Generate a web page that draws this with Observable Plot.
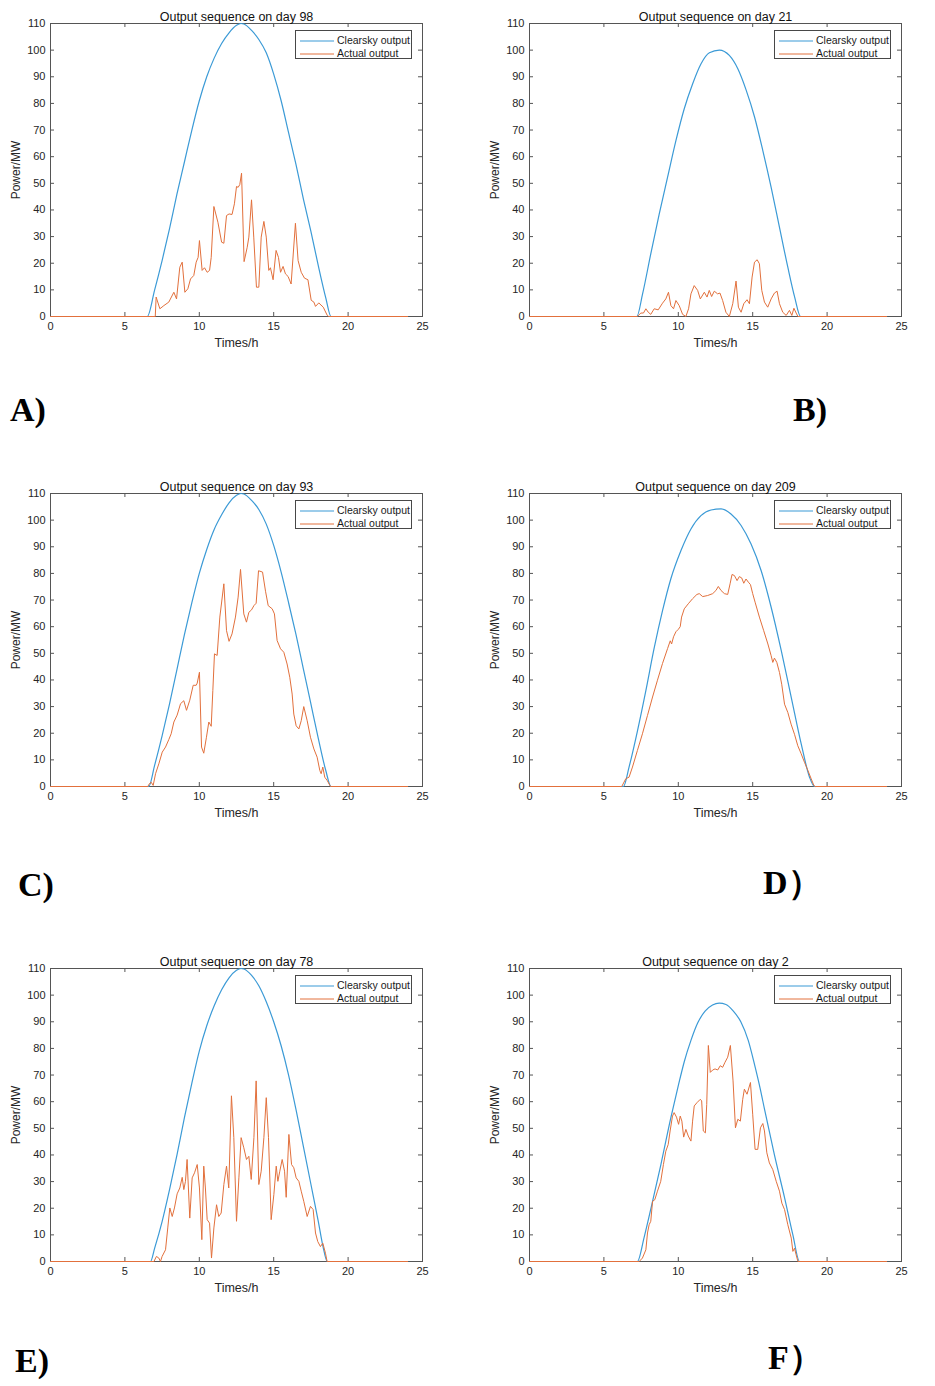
<!DOCTYPE html>
<html>
<head>
<meta charset="utf-8">
<script src="https://cdn.jsdelivr.net/npm/d3@7"></script>
<script src="https://cdn.jsdelivr.net/npm/@observablehq/plot@0.6"></script>
<style>
  body { margin: 0; background: #fff; }
  #page { position: relative; width: 935px; height: 1386px; font-family: "Liberation Sans", Arial, sans-serif; }
  .panel { position: absolute; width: 470px; height: 360px; }
  .legend { position: absolute; left: 295px; top: 30px; width: 115px; height: 27px; border: 1px solid #484848; background: #fff; font-size: 10.5px; color: #1a1a1a; }
  .legend div { position: absolute; left: 4px; height: 13px; line-height: 13px; white-space: nowrap; }
  .legend svg { vertical-align: middle; margin-right: 3px; }
  .tag { position: absolute; font-family: "Liberation Serif", "Times New Roman", serif; font-weight: bold; font-size: 34px; line-height: 1; color: #000; }
</style>
</head>
<body>
<div id="page"></div>
<script>
const xTicks = [0, 5, 10, 15, 20, 25]
const yTicks = [0, 10, 20, 30, 40, 50, 60, 70, 80, 90, 100, 110]
const days = [98, 21, 93, 209, 78, 2]
const tags = ["A)", "B)", "C)", "D）", "E)", "F）"]
const seriesNames = ["Clearsky output", "Actual output"]
const blue = "#3b9ad6"
const orange = "#e2703c"

/* clearsky output [hour, MW] */
const clearA = [[0,0],[6.5,0],[7,10],[7.5,21],[8,33],[8.5,46],[9,58],[9.5,70],[10,81],[10.5,90],[11,97],[11.5,102.5],[12,106.5],[12.5,109.3],[12.8,110],[13,109.8],[13.5,107.5],[14,104],[14.5,99],[15,91],[15.5,81],[16,69],[16.5,57],[17,44],[17.5,32],[18,19],[18.5,7],[18.85,0],[24,0]]
const clearB = [[0,0],[7.21,0],[7.6,8.5],[8.15,23.5],[8.72,38.5],[9.28,52.3],[9.84,66],[10.4,78],[10.96,87.3],[11.52,94.8],[12.09,99],[12.76,100],[13.43,98],[14,93],[14.56,85],[15.12,75],[15.68,62.3],[16.24,48.5],[16.8,33.5],[17.36,18.5],[17.82,7.3],[18.22,0],[24,0]]
const clearC = [[0,0],[6.6,0],[7,8],[7.5,19],[8,31],[8.5,44],[9,57],[9.5,69],[10,80],[10.5,89],[11,96.5],[11.5,102],[12,106.5],[12.5,109.3],[12.8,110],[13,109.8],[13.5,107.5],[14,104],[14.5,98.5],[15,90.5],[15.5,80.5],[16,69],[16.5,57],[17,44],[17.5,31],[18,18],[18.5,6],[18.85,0],[24,0]]
const clearD = [[0,0],[6.31,0],[6.69,7.3],[7.26,21],[7.82,36],[8.38,52],[8.94,66],[9.5,78],[10.18,88.6],[10.85,96.7],[11.52,101.7],[12.2,103.8],[12.87,104.2],[13.54,102.3],[14.22,98],[14.89,91],[15.57,81],[16.24,67.3],[16.92,51],[17.59,33.5],[18.26,16],[18.82,3.5],[19.16,0],[24,0]]
const clearE = [[0,0],[6.72,0],[7,5],[7.5,15],[8,27],[8.5,40],[9,54],[9.5,67],[10,79],[10.5,88.5],[11,96],[11.5,102],[12,106.5],[12.5,109.3],[12.8,110],[13,109.8],[13.5,107.5],[14,103.5],[14.5,97.5],[15,90],[15.5,81],[16,70],[16.5,57],[17,43],[17.5,29],[18,15],[18.3,6],[18.6,0],[24,0]]
const clearF = [[0,0],[7.25,0],[7.7,9],[8.27,22.6],[8.83,36.4],[9.5,54],[10,66],[10.4,75],[10.85,83],[11.3,89.5],[11.8,94],[12.3,96.3],[12.75,97],[13.2,96.5],[13.7,94],[14.2,90],[14.7,83],[15.12,74],[15.5,65],[15.8,57],[16.46,40],[17.14,24],[17.7,10],[18.15,0],[24,0]]

/* actual output [hour, MW] */
const actualA = [[0,0],[7.04,0],[7.1,7.3],[7.35,2.9],[7.62,4.1],[7.95,5.4],[8.29,9.1],[8.47,6.6],[8.69,18.5],[8.85,20.4],[9.03,9.1],[9.23,10.4],[9.41,14.1],[9.63,15.4],[9.79,20.4],[9.92,22.2],[10.01,28.5],[10.19,17.3],[10.35,18.3],[10.53,16.6],[10.69,17.3],[10.8,22.2],[10.98,41.3],[11.25,35.4],[11.5,27.9],[11.65,27.5],[11.83,37.9],[12,38.5],[12.2,38.3],[12.36,42.3],[12.5,48.8],[12.61,48.5],[12.72,49.5],[12.84,53.8],[13.01,20.6],[13.22,26],[13.33,29.8],[13.51,43.8],[13.66,29.8],[13.84,11],[14,11],[14.16,29.8],[14.34,35.7],[14.5,29.8],[14.67,17.3],[14.78,18.3],[14.96,13.8],[15.16,24.8],[15.32,22.2],[15.46,16.6],[15.63,18.8],[15.79,16],[15.97,15],[16.17,12.2],[16.46,35],[16.64,21],[16.85,16.6],[17.07,14.4],[17.3,13.8],[17.52,6.1],[17.7,5.4],[17.81,3.8],[18.03,5.1],[18.33,3.5],[18.6,0.4],[18.7,0],[24,0]]
const actualB = [[0,0],[7.25,0],[7.48,1.3],[7.66,1.3],[7.82,2.9],[7.98,1.6],[8.15,0.8],[8.38,2.9],[8.65,2.5],[8.94,5],[9.16,6.6],[9.34,9.1],[9.5,4.1],[9.68,2.9],[9.84,6],[10.06,4.1],[10.29,0.8],[10.51,0],[10.69,2.9],[10.85,8.5],[11.07,11.6],[11.3,9.8],[11.48,6.6],[11.75,9.1],[11.93,7.3],[12.08,9.8],[12.24,7.5],[12.42,9.5],[12.64,8.5],[12.8,8.8],[12.98,6],[13.2,1.6],[13.43,0],[13.66,4.8],[13.88,13.3],[14.04,3.5],[14.22,1.6],[14.4,4.8],[14.62,6.3],[14.78,4.8],[14.96,14.8],[15.12,20.4],[15.3,21.3],[15.45,19.8],[15.61,9.8],[15.79,5.4],[16.01,3.5],[16.24,6.6],[16.46,8.8],[16.64,9.5],[16.8,4.8],[17.02,1.6],[17.25,0.4],[17.47,2.3],[17.63,0.4],[17.77,3.1],[17.92,1.3],[18.04,0],[24,0]]
const actualC = [[0,0],[6.55,0],[6.61,0.8],[6.77,1.6],[6.9,0.4],[7.06,4.8],[7.28,8.5],[7.51,12.9],[7.73,14.8],[7.95,17.6],[8.11,19.8],[8.29,24.2],[8.51,26.8],[8.74,31.1],[8.96,32.2],[9.14,28.6],[9.36,32.4],[9.59,38],[9.79,38],[9.86,38.8],[10.01,42.9],[10.15,14.8],[10.3,12.5],[10.48,18.5],[10.64,24.2],[10.8,22.6],[10.91,36],[11.02,49.8],[11.2,49.2],[11.38,63.6],[11.65,76.1],[11.83,58.5],[12,54.5],[12.2,57.3],[12.43,63.6],[12.61,71.1],[12.77,81.5],[12.99,64.8],[13.17,61.7],[13.33,65.4],[13.51,66.3],[13.67,67.9],[13.82,68.8],[13.98,81],[14.25,80.5],[14.45,73.3],[14.63,67.9],[14.9,66.7],[15.05,64.8],[15.23,54.8],[15.46,51.7],[15.68,50.4],[15.9,46],[16.08,41],[16.24,34.7],[16.35,27.2],[16.51,22.8],[16.69,21.6],[16.85,24.7],[17.02,30],[17.25,24.7],[17.47,18.5],[17.7,14.1],[17.92,11],[18.1,6],[18.19,4.8],[18.3,7.3],[18.43,3.5],[18.59,2.3],[18.82,0],[24,0]]
const actualD = [[0,0],[6.2,0],[6.47,2.9],[6.69,3.5],[6.92,7.3],[7.25,13.5],[7.59,19.8],[7.93,26.7],[8.27,33.6],[8.6,39.9],[8.94,46.2],[9.28,51.8],[9.46,54.7],[9.55,53.5],[9.68,56.2],[9.84,58.1],[10,59],[10.13,60],[10.22,63.6],[10.4,66.7],[10.67,68.6],[10.96,70.5],[11.25,72.1],[11.41,72.4],[11.64,71.3],[11.97,71.7],[12.31,72.4],[12.53,73.6],[12.69,75.1],[12.87,73.6],[13.1,72.4],[13.32,72.1],[13.48,76.1],[13.61,79.6],[13.77,79.2],[13.95,77.3],[14.1,78.8],[14.26,78.3],[14.4,76.3],[14.55,77.9],[14.71,76.7],[14.85,75.8],[15,72.4],[15.16,69.2],[15.45,63.6],[15.74,58.5],[16.02,53.5],[16.24,49.1],[16.35,46.6],[16.46,48.2],[16.62,46.6],[16.8,42.8],[16.95,38.4],[17.14,30.9],[17.36,27.8],[17.58,23.4],[17.81,19.6],[18.03,15.3],[18.25,12.4],[18.48,9.1],[18.71,6],[18.93,2.9],[19.11,0.4],[19.2,0],[24,0]]
const actualE = [[0,0],[6.95,0],[7.12,1.9],[7.28,1.3],[7.39,0],[7.5,1.9],[7.73,4.4],[7.88,12.6],[8.02,20.1],[8.18,16.9],[8.33,20.1],[8.51,25.4],[8.69,27.6],[8.85,31.6],[8.96,27],[9.07,30.1],[9.18,38.3],[9.36,16.3],[9.52,31.4],[9.68,33.3],[9.86,36.4],[10.01,27.6],[10.17,8.2],[10.3,35.8],[10.41,27.6],[10.53,15.7],[10.69,14.4],[10.82,1.3],[10.98,12.6],[11.16,21.3],[11.31,16.9],[11.47,18.2],[11.65,28.9],[11.83,35.8],[11.98,27.6],[12.16,62.2],[12.32,46.5],[12.5,15.1],[12.66,31.4],[12.81,46.5],[12.99,42.7],[13.17,38.3],[13.33,39.5],[13.49,30.8],[13.67,46.5],[13.82,67.8],[14,28.9],[14.16,33.9],[14.34,46.5],[14.5,61.5],[14.65,46.5],[14.83,15.7],[15.01,25.1],[15.17,35.8],[15.28,30.1],[15.41,33.9],[15.57,38.3],[15.73,33.9],[15.84,24.1],[16.02,47.7],[16.2,36.4],[16.35,35.2],[16.51,31.4],[16.69,30.1],[16.85,26.4],[17.02,22.6],[17.25,16.9],[17.47,20.7],[17.65,19.5],[17.81,10.7],[17.96,7.5],[18.14,5.6],[18.3,6.9],[18.48,3.1],[18.59,0],[24,0]]
const actualF = [[0,0],[7.37,0],[7.59,1.3],[7.82,4.4],[7.93,10.7],[8.04,13.8],[8.15,15.1],[8.27,22.6],[8.42,23.2],[8.6,26.4],[8.82,30.1],[9,36.4],[9.16,41.4],[9.32,43.9],[9.45,49],[9.61,54.6],[9.72,55.9],[9.88,54.2],[10.02,51.5],[10.13,54.6],[10.24,52.7],[10.36,46.7],[10.51,49.6],[10.67,47.1],[10.85,45.2],[10.96,52.7],[11.07,58.4],[11.25,59.6],[11.48,60.9],[11.57,60.3],[11.68,49],[11.82,48.3],[11.91,59],[12.02,81.1],[12.15,71],[12.31,71.9],[12.47,72.3],[12.65,71.9],[12.82,73.5],[12.98,72.9],[13.14,74.8],[13.32,76.7],[13.5,81.1],[13.68,67.8],[13.84,50.2],[14,53.4],[14.17,52.7],[14.33,60.9],[14.44,64.7],[14.62,62.8],[14.85,67.2],[15,55.3],[15.16,42.1],[15.34,42.1],[15.52,50.2],[15.68,51.8],[15.79,49],[15.95,40.8],[16.12,37],[16.35,34.5],[16.58,30.1],[16.8,26.4],[16.96,21.9],[17.14,19.5],[17.36,13.8],[17.59,8.8],[17.7,3.8],[17.81,5],[17.92,2.5],[18.04,0],[24,0]]

const clearsky = [clearA, clearB, clearC, clearD, clearE, clearF]
const actual = [actualA, actualB, actualC, actualD, actualE, actualF]

const axisColor = "#555"
const W = 470, H = 360, mL = 50, mR = 48, mT = 23, mB = 44
const frameW = W - mL - mR, frameH = H - mT - mB

function panelChart(clear, act, day) {
  return Plot.plot({
    width: W, height: H,
    marginLeft: mL, marginRight: mR, marginTop: mT, marginBottom: mB,
    style: {fontFamily: "'Liberation Sans', Arial, sans-serif", fontSize: "11px", color: "#262626", background: "transparent", overflow: "visible"},
    x: {domain: [0, 25]},
    y: {domain: [0, 110]},
    marks: [
      // ticks hacia adentro en los 4 lados (estilo MATLAB)
      Plot.tickX(xTicks, {x: d => d, insetTop: frameH - 4, stroke: axisColor}),
      Plot.tickX(xTicks, {x: d => d, insetBottom: frameH - 4, stroke: axisColor}),
      Plot.tickY(yTicks, {y: d => d, insetRight: frameW - 4, stroke: axisColor}),
      Plot.tickY(yTicks, {y: d => d, insetLeft: frameW - 4, stroke: axisColor}),
      Plot.axisX({ticks: xTicks, tickSize: 0, tickPadding: 6, label: null}),
      Plot.axisY({ticks: yTicks, tickSize: 0, tickPadding: 5, label: null}),
      Plot.frame({stroke: axisColor}),
      Plot.line(clear, {x: d => d[0], y: d => d[1], stroke: blue, strokeWidth: 1.2, curve: "monotone-x"}),
      Plot.line(act, {x: d => d[0], y: d => d[1], stroke: orange, strokeWidth: 1}),
      Plot.text([`Output sequence on day ${day}`], {frameAnchor: "top", dy: -3, lineAnchor: "bottom", fontSize: 12.5, fill: "#111"}),
      Plot.text(["Times/h"], {frameAnchor: "bottom", dy: 22, lineAnchor: "top", fontSize: 12.5, fill: "#262626"}),
      Plot.text(["Power/MW"], {frameAnchor: "left", dx: -34, rotate: -90, textAnchor: "middle", fontSize: 12, fill: "#262626"})
    ]
  })
}

const page = d3.select("#page")
const offsets = [[0, 0], [479, 0], [0, 470], [479, 470], [0, 945], [479, 945]]
const tagPos = [[10, 393], [793, 393], [18, 868], [763, 866], [15, 1344], [768, 1341]]

days.forEach((day, i) => {
  const [ox, oy] = offsets[i]
  const div = page.append("div").attr("class", "panel")
    .style("left", ox + "px").style("top", oy + "px")
  div.append(() => panelChart(clearsky[i], actual[i], day))

  /* leyenda */
  const leg = div.append("div").attr("class", "legend")
  ;[blue, orange].forEach((c, j) => {
    const row = leg.append("div").style("top", (3 + j * 13) + "px")
    const sw = row.append("svg").attr("width", 34).attr("height", 6)
    sw.append("line").attr("x1", 0).attr("x2", 34).attr("y1", 3).attr("y2", 3)
      .attr("stroke", c).attr("stroke-width", j == 0 ? 1.2 : 1)
    row.append("span").text(seriesNames[j])
  })

  page.append("div").attr("class", "tag")
    .style("left", tagPos[i][0] + "px").style("top", tagPos[i][1] + "px")
    .text(tags[i])
})
</script>
</body>
</html>
